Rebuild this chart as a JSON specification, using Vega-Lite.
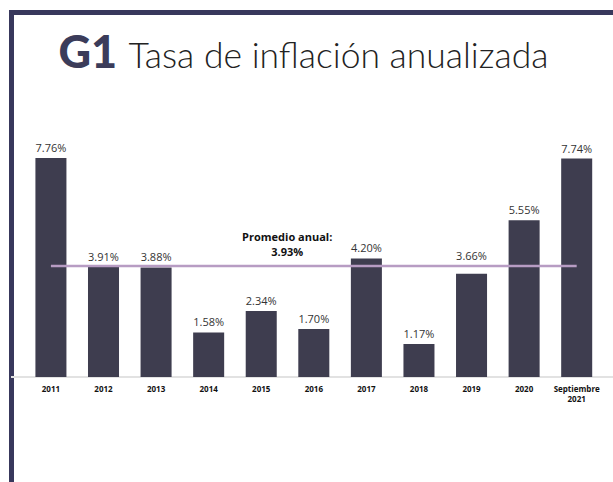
{
  "$schema": "https://vega.github.io/schema/vega-lite/v6.json",
  "width": 602,
  "height": 470,
  "autosize": "none",
  "padding": {"left": 11, "top": 12, "right": 0, "bottom": 0},
  "background": "white",
  "config": {"view": {"stroke": null}},
  "datasets": {
    "bars": [
      {"cat": "2011", "v": 7.76, "lab": "7.76%"},
      {"cat": "2012", "v": 3.91, "lab": "3.91%"},
      {"cat": "2013", "v": 3.88, "lab": "3.88%"},
      {"cat": "2014", "v": 1.58, "lab": "1.58%"},
      {"cat": "2015", "v": 2.34, "lab": "2.34%"},
      {"cat": "2016", "v": 1.70, "lab": "1.70%"},
      {"cat": "2017", "v": 4.20, "lab": "4.20%"},
      {"cat": "2018", "v": 1.17, "lab": "1.17%"},
      {"cat": "2019", "v": 3.66, "lab": "3.66%"},
      {"cat": "2020", "v": 5.55, "lab": "5.55%"},
      {"cat": "Septiembre\n2021", "v": 7.74, "lab": "7.74%"}
    ],
    "avg": [
      {"cat": "2011", "cat2": "Septiembre\n2021", "pos": "2015", "v": 3.93, "lab1": "Promedio anual:", "lab2": "3.93%"}
    ]
  },
  "layer": [
    {
      "data": {"name": "bars"},
      "mark": {"type": "rule", "color": "#e2e2e2", "strokeWidth": 2},
      "encoding": {
        "y": {"datum": 0, "type": "quantitative"}
      }
    },
    {
      "data": {"name": "bars"},
      "mark": {"type": "bar", "color": "#3e3d4f"},
      "encoding": {
        "x": {
          "field": "cat", "type": "nominal", "sort": null,
          "scale": {"paddingInner": 0.41, "paddingOuter": 0.43, "align": 0.54},
          "axis": {
            "orient": "top", "labels": false, "ticks": false, "grid": false,
            "domain": true, "domainColor": "#38385c", "domainWidth": 5, "domainCap": "square",
            "title": "Tasa de inflación anualizada",
            "titleX": 117, "titleY": 55, "titleAlign": "left", "titleBaseline": "alphabetic", "titleAnchor": null,
            "titleFont": "Lato", "titleFontWeight": 300, "titleFontSize": 35.5, "titleColor": "#222222"
          }
        },
        "y": {
          "field": "v", "type": "quantitative",
          "scale": {"domain": [-3.72, 12.93], "nice": false, "zero": false},
          "axis": {
            "labels": false, "ticks": false, "grid": false,
            "domain": true, "domainColor": "#38385c", "domainWidth": 5, "domainCap": "square",
            "title": "G1", "titleAngle": 0,
            "titleX": 47, "titleY": 55, "titleAlign": "left", "titleBaseline": "alphabetic", "titleAnchor": null,
            "titleFont": "Lato", "titleFontWeight": 900, "titleFontSize": 45, "titleColor": "#3b3c5a"
          },
          "stack": null
        },
        "y2": {"datum": 0}
      }
    },
    {
      "data": {"name": "bars"},
      "transform": [{"filter": "datum.cat !== '2019'"}],
      "mark": {"type": "text", "baseline": "bottom", "dy": -4, "font": "Open Sans", "fontSize": 11, "color": "#333333"},
      "encoding": {
        "x": {"field": "cat", "type": "nominal", "sort": null},
        "y": {"field": "v", "type": "quantitative"},
        "text": {"field": "lab"}
      }
    },
    {
      "data": {"name": "bars"},
      "transform": [{"filter": "datum.cat === '2019'"}],
      "mark": {"type": "text", "baseline": "bottom", "dy": -12, "font": "Open Sans", "fontSize": 11, "color": "#333333"},
      "encoding": {
        "x": {"field": "cat", "type": "nominal", "sort": null},
        "y": {"field": "v", "type": "quantitative"},
        "text": {"field": "lab"}
      }
    },
    {
      "data": {"name": "bars"},
      "mark": {"type": "text", "baseline": "top", "dy": 9, "font": "Open Sans", "fontWeight": "bold", "fontSize": 8, "color": "#111111", "lineBreak": "\n", "lineHeight": 10},
      "encoding": {
        "x": {"field": "cat", "type": "nominal", "sort": null},
        "y": {"datum": 0, "type": "quantitative"},
        "text": {"field": "cat"}
      }
    },
    {
      "data": {"name": "avg"},
      "mark": {"type": "rule", "color": "#b79cc3", "strokeWidth": 2.5},
      "encoding": {
        "x": {"field": "cat", "type": "nominal"},
        "x2": {"field": "cat2"},
        "y": {"field": "v", "type": "quantitative"}
      }
    },
    {
      "data": {"name": "avg"},
      "mark": {"type": "text", "baseline": "middle", "dy": -28, "dx": 26, "font": "Open Sans", "fontWeight": "bold", "fontSize": 11, "color": "#111111"},
      "encoding": {
        "x": {"field": "pos", "type": "nominal"},
        "y": {"field": "v", "type": "quantitative"},
        "text": {"field": "lab1"}
      }
    },
    {
      "data": {"name": "avg"},
      "mark": {"type": "text", "baseline": "middle", "dy": -13, "dx": 26, "font": "Open Sans", "fontWeight": "bold", "fontSize": 11, "color": "#111111"},
      "encoding": {
        "x": {"field": "pos", "type": "nominal"},
        "y": {"field": "v", "type": "quantitative"},
        "text": {"field": "lab2"}
      }
    }
  ]
}
